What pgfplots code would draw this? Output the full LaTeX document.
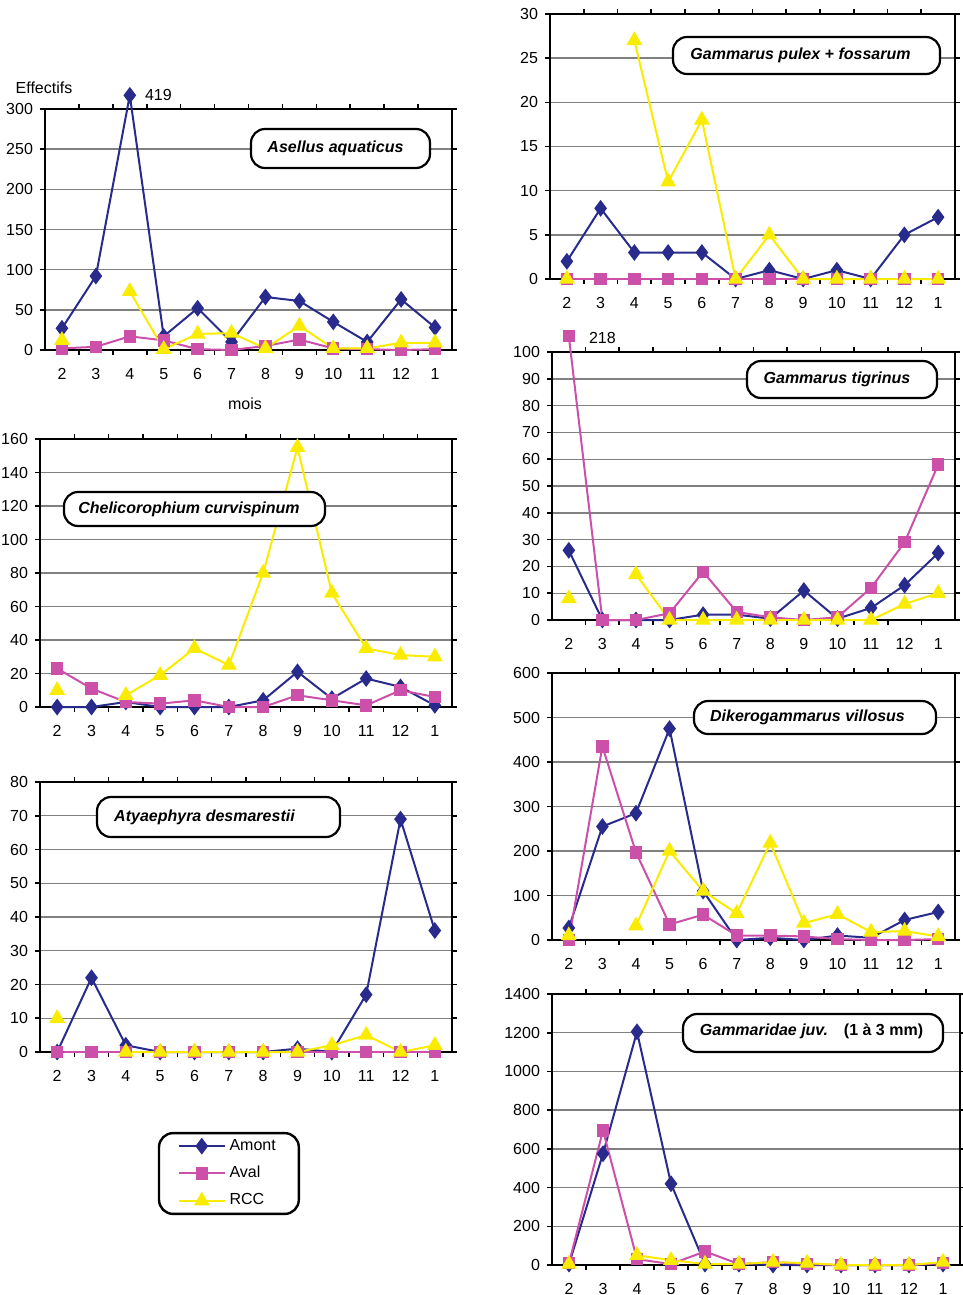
\documentclass[border=0pt]{standalone}
\usepackage{fontspec}
\setmainfont{Liberation Sans}
\usepackage{pgfplots}
\pgfplotsset{compat=1.18}
\definecolor{cA}{RGB}{40,42,140}
\definecolor{cB}{RGB}{204,80,170}
\definecolor{cC}{RGB}{250,236,0}
\newcommand{\fs}{\fontsize{8}{9.6}\selectfont}
\newcommand{\bx}{\fontsize{8}{9.6}\selectfont\bfseries\itshape}
\pgfplotsset{
  panel/.style={
    scale only axis, anchor=south west,
    xmin=-0.5, xmax=11.5, ymin=0,
    xtick={0,...,11}, xticklabels={2,3,4,5,6,7,8,9,10,11,12,1},
    major x tick style={draw=none},
    minor xtick={0.5,1.5,...,10.5},
    minor tick length=2.5pt, major tick length=2.5pt,
    tick align=outside, tick style={black, line width=0.8pt},
    ymajorgrids, grid style={black!50, line width=0.7pt},
    axis line style={black, line width=1pt},
    tick label style={font=\fs},
    /pgf/number format/assume math mode=true,
    /pgf/number format/1000 sep={},
    clip=false, unbounded coords=jump,
    xticklabel style={yshift=-3pt},
    legend image code/.code={\draw[mark repeat=2, mark phase=2] plot coordinates {(0cm,0cm) (0.4cm,0cm) (0.8cm,0cm)};},
  },
  amont/.style={color=cA, line width=1pt, mark=diamond*, mark size=3.4pt, mark options={fill=cA, solid}},
  aval/.style={color=cB, line width=1pt, mark=square*, mark size=2.6pt, mark options={fill=cB, solid}},
  rcc/.style={color=cC, line width=1pt, mark=triangle*, mark size=3.6pt, mark options={fill=cC, solid}},
}
\begin{document}
\begin{tikzpicture}
\path[use as bounding box] (0,0) rectangle (481.5pt,-647.5pt);

% ---------- Asellus aquaticus ----------
\begin{axis}[panel, at={(22.5pt,-175pt)}, width=203.5pt, height=120.5pt, ymax=300, ytick={0,50,...,300}]
\addplot[amont] coordinates {(0,27) (1,92) (2,317) (3,17) (4,52) (5,10) (6,66) (7,61) (8,35) (9,10) (10,63) (11,28)};
\addplot[aval] coordinates {(0,2) (1,4) (2,17) (3,12) (4,1) (5,0) (6,5) (7,13) (8,2) (9,1) (10,0) (11,1)};
\addplot[rcc] coordinates {(0,12) (1,nan) (2,73) (3,1) (4,20) (5,21) (6,2) (7,30) (8,2) (9,2) (10,9) (11,9)};
\end{axis}

% ---------- Chelicorophium curvispinum ----------
\begin{axis}[panel, at={(20pt,-353.5pt)}, width=206pt, height=134pt, ymax=160, ytick={0,20,...,160}]
\addplot[amont] coordinates {(0,0) (1,0) (2,3) (3,0) (4,0) (5,0) (6,4) (7,21) (8,5) (9,17) (10,12) (11,1)};
\addplot[aval] coordinates {(0,23) (1,11) (2,3) (3,2) (4,4) (5,0) (6,0) (7,7) (8,4) (9,1) (10,10) (11,6)};
\addplot[rcc] coordinates {(0,10) (1,nan) (2,7) (3,19) (4,35) (5,25) (6,80) (7,155) (8,68) (9,35) (10,31) (11,30)};
\end{axis}

% ---------- Atyaephyra desmarestii ----------
\begin{axis}[panel, at={(20pt,-526pt)}, width=206pt, height=135pt, ymax=80, ytick={0,10,...,80},
  legend cell align=left,
  legend style={at={(0.286,-0.296)}, anchor=north west, draw=black, line width=1.2pt,
    rounded corners=7pt, font=\fs, row sep=2.5pt, inner xsep=9.5pt, inner ysep=1pt}]
\addplot[amont] coordinates {(0,0) (1,22) (2,2) (3,0) (4,0) (5,0) (6,0) (7,1) (8,0) (9,17) (10,69) (11,36)};
\addplot[aval] coordinates {(0,0) (1,0) (2,0) (3,0) (4,0) (5,0) (6,0) (7,0) (8,0) (9,0) (10,0) (11,0)};
\addplot[rcc] coordinates {(0,10) (1,nan) (2,0) (3,0) (4,0) (5,0) (6,0) (7,0) (8,2) (9,5) (10,0) (11,2)};
\legend{Amont,Aval,RCC}
\end{axis}

% ---------- Gammarus pulex + fossarum ----------
\begin{axis}[panel, at={(275pt,-139.5pt)}, width=202.5pt, height=132.5pt, ymax=30, ytick={0,5,...,30}]
\addplot[amont] coordinates {(0,2) (1,8) (2,3) (3,3) (4,3) (5,0) (6,1) (7,0) (8,1) (9,0) (10,5) (11,7)};
\addplot[aval] coordinates {(0,0) (1,0) (2,0) (3,0) (4,0) (5,0) (6,0) (7,0) (8,0) (9,0) (10,0) (11,0)};
\addplot[rcc] coordinates {(0,0) (1,nan) (2,27) (3,11) (4,18) (5,0) (6,5) (7,0) (8,0) (9,0) (10,0) (11,0)};
\end{axis}

% ---------- Gammarus tigrinus ----------
\begin{axis}[panel, at={(276pt,-310pt)}, width=201.5pt, height=134pt, ymax=100, ytick={0,10,...,100}]
\addplot[amont] coordinates {(0,26) (1,0) (2,0) (3,0) (4,2) (5,2) (6,0.5) (7,11) (8,0.5) (9,4.5) (10,13) (11,25)};
\addplot[aval] coordinates {(0,106) (1,0) (2,0) (3,2.5) (4,18) (5,3) (6,1) (7,0) (8,1) (9,12) (10,29) (11,58)};
\addplot[rcc] coordinates {(0,8) (1,nan) (2,17) (3,0) (4,0) (5,0) (6,0) (7,0) (8,0) (9,0) (10,6) (11,10)};
\end{axis}

% ---------- Dikerogammarus villosus ----------
\begin{axis}[panel, at={(276pt,-470pt)}, width=201.5pt, height=133.5pt, ymax=600, ytick={0,100,...,600}]
\addplot[amont] coordinates {(0,27) (1,255) (2,285) (3,475) (4,110) (5,0) (6,5) (7,0) (8,10) (9,5) (10,45) (11,63)};
\addplot[aval] coordinates {(0,0) (1,435) (2,197) (3,35) (4,57) (5,10) (6,10) (7,8) (8,2) (9,0) (10,0) (11,2)};
\addplot[rcc] coordinates {(0,10) (1,nan) (2,32) (3,200) (4,110) (5,60) (6,218) (7,38) (8,58) (9,18) (10,20) (11,8)};
\end{axis}

% ---------- Gammaridae juv. ----------
\begin{axis}[panel, at={(276pt,-632.5pt)}, width=204pt, height=135.5pt, ymax=1400, ytick={0,200,...,1400}]
\addplot[amont] coordinates {(0,5) (1,575) (2,1205) (3,420) (4,5) (5,5) (6,0) (7,0) (8,0) (9,0) (10,0) (11,5)};
\addplot[aval] coordinates {(0,10) (1,695) (2,30) (3,5) (4,70) (5,5) (6,15) (7,5) (8,0) (9,0) (10,0) (11,10)};
\addplot[rcc] coordinates {(0,5) (1,nan) (2,50) (3,25) (4,5) (5,5) (6,15) (7,10) (8,0) (9,0) (10,0) (11,15)};
\end{axis}

% ---------- labels ----------
\node[font=\fs] at (22pt,-44pt) {Effectifs};
\node[font=\fs] at (122.5pt,-202pt) {mois};
\node[font=\fs, anchor=west] at (69pt,-47.5pt) {419};
\node[font=\fs, anchor=west] at (291pt,-169pt) {218};

\tikzset{lbox/.style={draw=black, fill=white, line width=1.1pt, rounded corners=7pt, inner sep=0pt}}
\node[lbox, minimum width=89.5pt, minimum height=19.5pt] at (170.25pt,-74.25pt) {};
\node[font=\bx] at (167.75pt,-74pt) {Asellus aquaticus};
\node[lbox, minimum width=130.5pt, minimum height=17pt] at (97.25pt,-254.5pt) {};
\node[font=\bx] at (94.5pt,-254.5pt) {Chelicorophium curvispinum};
\node[lbox, minimum width=121.5pt, minimum height=20pt] at (109.25pt,-408.5pt) {};
\node[font=\bx] at (102.25pt,-408.5pt) {Atyaephyra desmarestii};
\node[lbox, minimum width=133.5pt, minimum height=18.5pt] at (403.25pt,-27.75pt) {};
\node[font=\bx] at (400.25pt,-27.5pt) {Gammarus pulex + fossarum};
\node[lbox, minimum width=95pt, minimum height=18.5pt] at (421pt,-189.75pt) {};
\node[font=\bx] at (418.5pt,-189.5pt) {Gammarus tigrinus};
\node[lbox, minimum width=121pt, minimum height=16.5pt] at (407.5pt,-358.75pt) {};
\node[font=\bx] at (403.75pt,-358.5pt) {Dikerogammarus villosus};
\node[lbox, minimum width=130pt, minimum height=19pt] at (406.5pt,-516.5pt) {};
\node[font=\fs\bfseries] at (405.75pt,-515.5pt) {\textit{Gammaridae juv.}\quad(1 à 3 mm)};
\end{tikzpicture}
\end{document}
